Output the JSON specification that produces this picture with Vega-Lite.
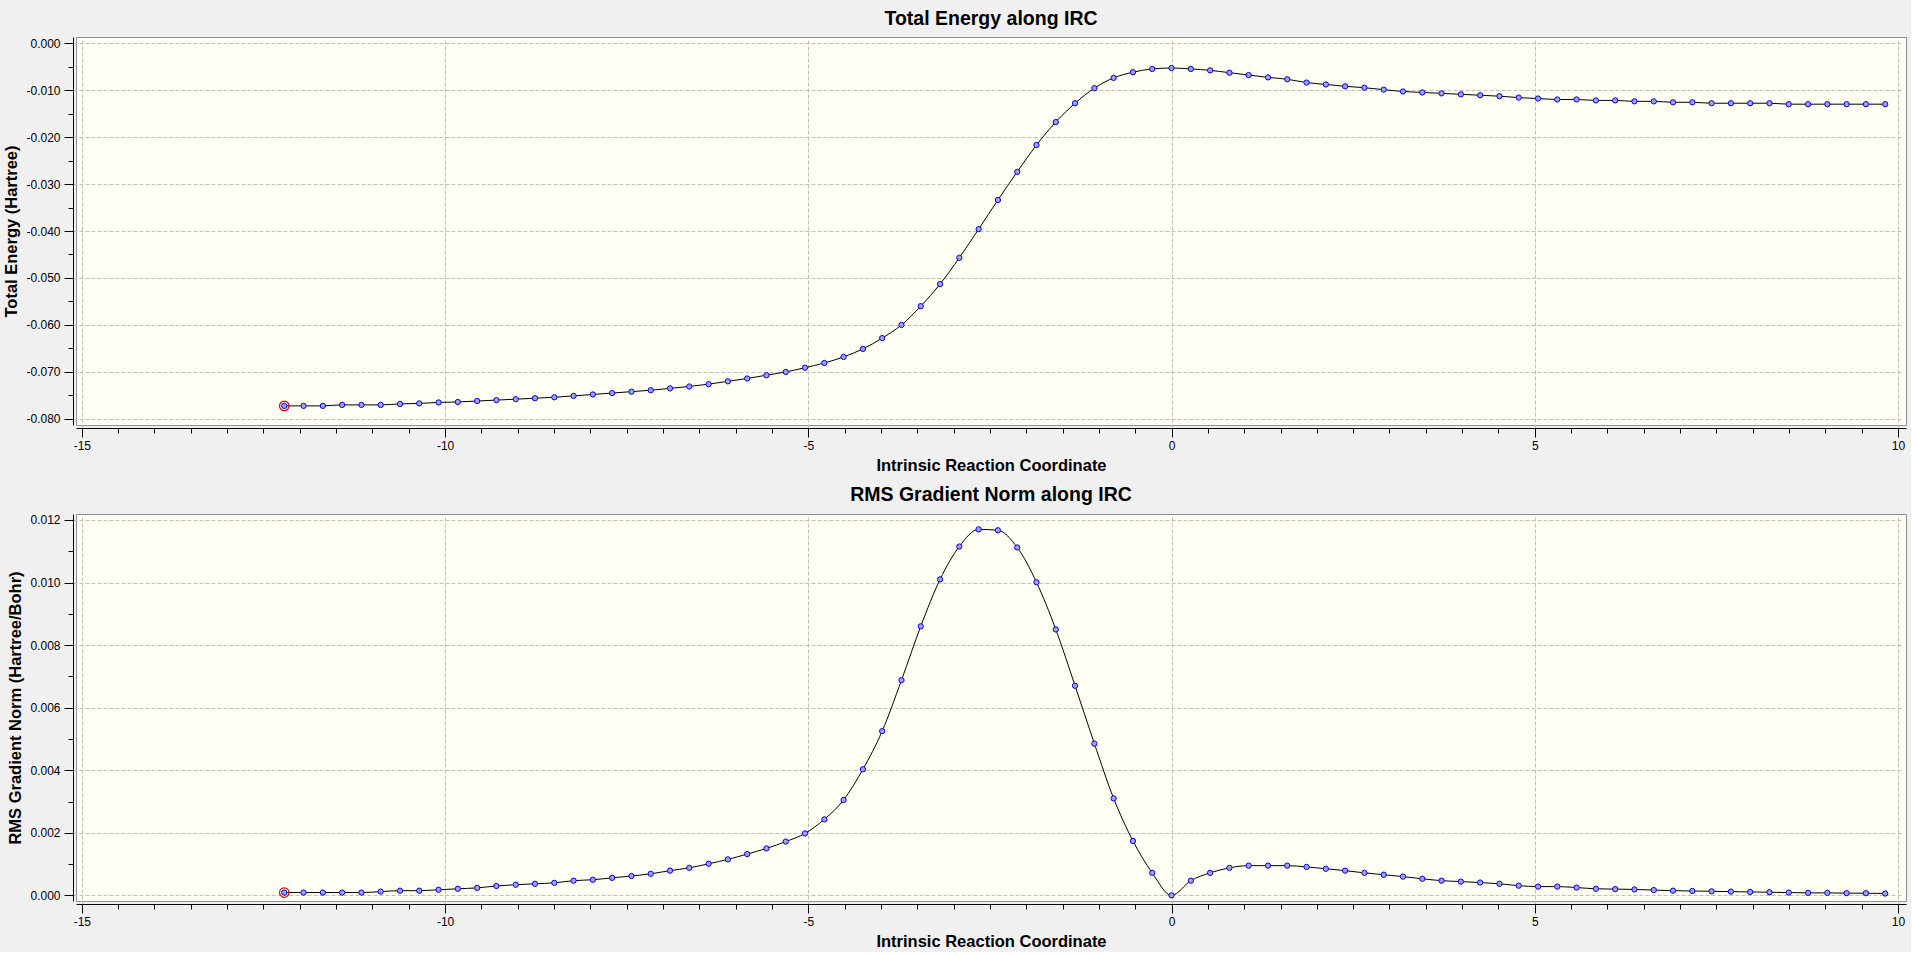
{
  "$schema": "https://vega.github.io/schema/vega-lite/v6.json",
  "background": "#F0F0F0",
  "padding": {"left": 3, "top": 8, "right": 4, "bottom": 2},
  "spacing": 10,
  "data": {
    "values": [
      {"x": -12.213, "e": -0.07723, "g": 0.00009},
      {"x": -11.948, "e": -0.07723, "g": 0.00009},
      {"x": -11.682, "e": -0.07723, "g": 0.00009},
      {"x": -11.417, "e": -0.07702, "g": 0.00009},
      {"x": -11.151, "e": -0.07702, "g": 0.00009},
      {"x": -10.886, "e": -0.07702, "g": 0.00012},
      {"x": -10.620, "e": -0.07681, "g": 0.00015},
      {"x": -10.355, "e": -0.0767, "g": 0.00015},
      {"x": -10.089, "e": -0.0765, "g": 0.00018},
      {"x": -9.824, "e": -0.0764, "g": 0.00021},
      {"x": -9.558, "e": -0.0762, "g": 0.00024},
      {"x": -9.293, "e": -0.0760, "g": 0.00030},
      {"x": -9.027, "e": -0.0758, "g": 0.00034},
      {"x": -8.762, "e": -0.0756, "g": 0.00037},
      {"x": -8.496, "e": -0.0754, "g": 0.00040},
      {"x": -8.231, "e": -0.0751, "g": 0.00047},
      {"x": -7.965, "e": -0.0748, "g": 0.00050},
      {"x": -7.700, "e": -0.0745, "g": 0.00056},
      {"x": -7.434, "e": -0.0742, "g": 0.00062},
      {"x": -7.169, "e": -0.0739, "g": 0.00069},
      {"x": -6.903, "e": -0.0735, "g": 0.00079},
      {"x": -6.638, "e": -0.0731, "g": 0.00088},
      {"x": -6.372, "e": -0.0726, "g": 0.00101},
      {"x": -6.107, "e": -0.0720, "g": 0.00115},
      {"x": -5.841, "e": -0.0714, "g": 0.00132},
      {"x": -5.576, "e": -0.0707, "g": 0.00150},
      {"x": -5.310, "e": -0.0700, "g": 0.00172},
      {"x": -5.045, "e": -0.0691, "g": 0.00198},
      {"x": -4.779, "e": -0.0681, "g": 0.00243},
      {"x": -4.514, "e": -0.0668, "g": 0.00305},
      {"x": -4.248, "e": -0.0651, "g": 0.00403},
      {"x": -3.983, "e": -0.0628, "g": 0.00525},
      {"x": -3.717, "e": -0.0600, "g": 0.00688},
      {"x": -3.452, "e": -0.0560, "g": 0.00860},
      {"x": -3.186, "e": -0.0513, "g": 0.01010},
      {"x": -2.921, "e": -0.0457, "g": 0.01115},
      {"x": -2.655, "e": -0.0396, "g": 0.01170},
      {"x": -2.390, "e": -0.0334, "g": 0.01167},
      {"x": -2.124, "e": -0.0274, "g": 0.01112},
      {"x": -1.859, "e": -0.0217, "g": 0.01001},
      {"x": -1.593, "e": -0.0168, "g": 0.00850},
      {"x": -1.328, "e": -0.0128, "g": 0.00670},
      {"x": -1.062, "e": -0.0096, "g": 0.00485},
      {"x": -0.797, "e": -0.0074, "g": 0.00310},
      {"x": -0.531, "e": -0.0062, "g": 0.00174},
      {"x": -0.266, "e": -0.0055, "g": 0.00072},
      {"x": 0.000, "e": -0.0053, "g": 0.00000},
      {"x": 0.266, "e": -0.0055, "g": 0.00047},
      {"x": 0.531, "e": -0.0058, "g": 0.00072},
      {"x": 0.797, "e": -0.0063, "g": 0.00088},
      {"x": 1.062, "e": -0.0068, "g": 0.00095},
      {"x": 1.328, "e": -0.0073, "g": 0.00095},
      {"x": 1.593, "e": -0.0077, "g": 0.00095},
      {"x": 1.859, "e": -0.0084, "g": 0.00091},
      {"x": 2.124, "e": -0.0088, "g": 0.00085},
      {"x": 2.390, "e": -0.0092, "g": 0.00079},
      {"x": 2.655, "e": -0.0095, "g": 0.00072},
      {"x": 2.921, "e": -0.0099, "g": 0.00066},
      {"x": 3.186, "e": -0.0103, "g": 0.00060},
      {"x": 3.452, "e": -0.0105, "g": 0.00053},
      {"x": 3.717, "e": -0.0107, "g": 0.00047},
      {"x": 3.983, "e": -0.0109, "g": 0.00044},
      {"x": 4.248, "e": -0.0111, "g": 0.00041},
      {"x": 4.514, "e": -0.0113, "g": 0.00037},
      {"x": 4.779, "e": -0.0116, "g": 0.00031},
      {"x": 5.045, "e": -0.0118, "g": 0.00028},
      {"x": 5.310, "e": -0.0120, "g": 0.00028},
      {"x": 5.576, "e": -0.0120, "g": 0.00025},
      {"x": 5.841, "e": -0.0122, "g": 0.00021},
      {"x": 6.107, "e": -0.0122, "g": 0.00020},
      {"x": 6.372, "e": -0.0124, "g": 0.00019},
      {"x": 6.638, "e": -0.0124, "g": 0.00017},
      {"x": 6.903, "e": -0.0126, "g": 0.00015},
      {"x": 7.169, "e": -0.0126, "g": 0.00014},
      {"x": 7.434, "e": -0.0128, "g": 0.00013},
      {"x": 7.700, "e": -0.0128, "g": 0.00012},
      {"x": 7.965, "e": -0.0128, "g": 0.00011},
      {"x": 8.231, "e": -0.0128, "g": 0.00010},
      {"x": 8.496, "e": -0.0130, "g": 0.00009},
      {"x": 8.762, "e": -0.0130, "g": 0.00008},
      {"x": 9.027, "e": -0.0130, "g": 0.00008},
      {"x": 9.293, "e": -0.0130, "g": 0.00007},
      {"x": 9.558, "e": -0.0130, "g": 0.00007},
      {"x": 9.824, "e": -0.0130, "g": 0.00006}
    ]
  },
  "config": {
    "font": "Liberation Sans",
    "view": {"fill": "#FFFFF4", "stroke": "#8C9099", "strokeWidth": 1},
    "title": {"fontSize": 19.5, "fontWeight": "bold", "color": "#000000", "anchor": "middle", "offset": 8},
    "axis": {
      "domainColor": "#000000",
      "tickColor": "#000000",
      "labelColor": "#000000",
      "labelFontSize": 12,
      "labelFont": "Liberation Sans",
      "labelOverlap": false,
      "labelFlush": false,
      "titleFontSize": 16.5,
      "titleFontWeight": "bold",
      "titleColor": "#000000",
      "gridColor": "#C0C0C0",
      "gridDash": [4, 2],
      "offset": 3,
      "labelPadding": 3
    },
    "axisY": {"titlePadding": 6, "labelPadding": 4},
    "axisX": {"titlePadding": 6}
  },
  "vconcat": [
    {
      "title": "Total Energy along IRC",
      "width": 1830,
      "height": 388,
      "encoding": {
        "x": {
          "field": "x", "type": "quantitative",
          "scale": {"domain": [-15.08, 10.11], "nice": false, "zero": false},
          "axis": {
            "title": "Intrinsic Reaction Coordinate",
            "values": [-15, -14.5, -14, -13.5, -13, -12.5, -12, -11.5, -11, -10.5, -10, -9.5, -9, -8.5, -8, -7.5, -7, -6.5, -6, -5.5, -5, -4.5, -4, -3.5, -3, -2.5, -2, -1.5, -1, -0.5, 0, 0.5, 1, 1.5, 2, 2.5, 3, 3.5, 4, 4.5, 5, 5.5, 6, 6.5, 7, 7.5, 8, 8.5, 9, 9.5, 10],
            "labelExpr": "abs(datum.value % 5) < 0.001 ? (datum.value < 0 ? '-' : '') + format(abs(datum.value), 'd') : ''",
            "tickSize": {"condition": {"test": "abs(datum.value % 5) < 0.001", "value": 9}, "value": 5},
            "gridOpacity": {"condition": {"test": "abs(datum.value % 5) < 0.001", "value": 1}, "value": 0}
          }
        },
        "y": {
          "field": "e", "type": "quantitative",
          "scale": {"domain": [-0.0813, 0.0013], "nice": false, "zero": false},
          "axis": {
            "title": "Total Energy (Hartree)",
            "values": [-0.08, -0.075, -0.07, -0.065, -0.06, -0.055, -0.05, -0.045, -0.04, -0.035, -0.03, -0.025, -0.02, -0.015, -0.01, -0.005, 0],
            "labelExpr": "abs(round(datum.value * 1000)) % 10 === 0 ? (datum.value < -0.0001 ? '-' : '') + format(abs(datum.value), '.3f') : ''",
            "tickSize": {"condition": {"test": "abs(round(datum.value * 1000)) % 10 === 0", "value": 9}, "value": 5},
            "gridOpacity": {"condition": {"test": "abs(round(datum.value * 1000)) % 10 === 0", "value": 1}, "value": 0}
          }
        }
      },
      "layer": [
        {"mark": {"type": "line", "color": "#000000", "strokeWidth": 1, "interpolate": "monotone"}},
        {"mark": {"type": "circle", "size": 28, "fill": "#A4A4D0", "stroke": "#0000FF", "strokeWidth": 1, "opacity": 1}},
        {
          "transform": [{"filter": "datum.x < -12.1"}],
          "mark": {"type": "point", "shape": "circle", "size": 90, "filled": false, "stroke": "#E00000", "strokeWidth": 1.2, "opacity": 1}
        }
      ]
    },
    {
      "title": "RMS Gradient Norm along IRC",
      "width": 1830,
      "height": 387,
      "encoding": {
        "x": {
          "field": "x", "type": "quantitative",
          "scale": {"domain": [-15.08, 10.11], "nice": false, "zero": false},
          "axis": {
            "title": "Intrinsic Reaction Coordinate",
            "values": [-15, -14.5, -14, -13.5, -13, -12.5, -12, -11.5, -11, -10.5, -10, -9.5, -9, -8.5, -8, -7.5, -7, -6.5, -6, -5.5, -5, -4.5, -4, -3.5, -3, -2.5, -2, -1.5, -1, -0.5, 0, 0.5, 1, 1.5, 2, 2.5, 3, 3.5, 4, 4.5, 5, 5.5, 6, 6.5, 7, 7.5, 8, 8.5, 9, 9.5, 10],
            "labelExpr": "abs(datum.value % 5) < 0.001 ? (datum.value < 0 ? '-' : '') + format(abs(datum.value), 'd') : ''",
            "tickSize": {"condition": {"test": "abs(datum.value % 5) < 0.001", "value": 9}, "value": 5},
            "gridOpacity": {"condition": {"test": "abs(datum.value % 5) < 0.001", "value": 1}, "value": 0}
          }
        },
        "y": {
          "field": "g", "type": "quantitative",
          "scale": {"domain": [-0.00018, 0.01219], "nice": false, "zero": false},
          "axis": {
            "title": "RMS Gradient Norm (Hartree/Bohr)",
            "values": [0, 0.001, 0.002, 0.003, 0.004, 0.005, 0.006, 0.007, 0.008, 0.009, 0.01, 0.011, 0.012],
            "labelExpr": "round(datum.value * 1000) % 2 === 0 ? format(datum.value, '.3f') : ''",
            "tickSize": {"condition": {"test": "round(datum.value * 1000) % 2 === 0", "value": 9}, "value": 5},
            "gridOpacity": {"condition": {"test": "round(datum.value * 1000) % 2 === 0", "value": 1}, "value": 0}
          }
        }
      },
      "layer": [
        {"mark": {"type": "line", "color": "#000000", "strokeWidth": 1, "interpolate": "monotone"}},
        {"mark": {"type": "circle", "size": 28, "fill": "#A4A4D0", "stroke": "#0000FF", "strokeWidth": 1, "opacity": 1}},
        {
          "transform": [{"filter": "datum.x < -12.1"}],
          "mark": {"type": "point", "shape": "circle", "size": 90, "filled": false, "stroke": "#E00000", "strokeWidth": 1.2, "opacity": 1}
        }
      ]
    }
  ]
}
